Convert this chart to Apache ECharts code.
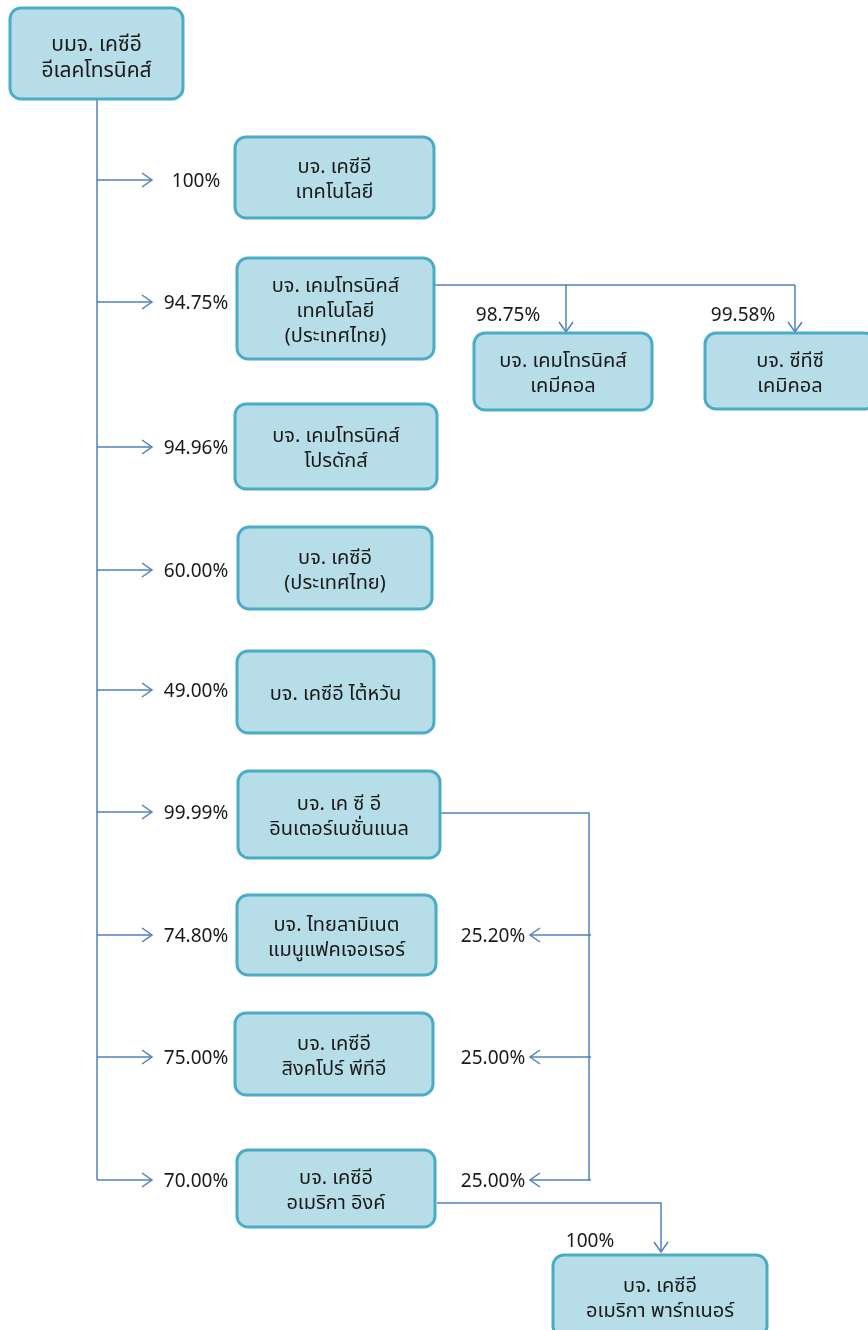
<!DOCTYPE html>
<html>
<head>
<meta charset="utf-8">
<title>โครงสร้างกลุ่มบริษัท</title>
<script src="https://cdn.jsdelivr.net/npm/echarts@6/dist/echarts.min.js"></script>
<style>
  html, body { margin: 0; padding: 0; background: #fff; }
  #chart { width: 868px; height: 1330px; }
</style>
</head>
<body>
<div id="chart"></div>
<script>
  // ชื่อบริษัท
  var companies = [
    'บมจ. เคซีอี\nอีเลคโทรนิคส์',
    'บจ. เคซีอี\nเทคโนโลยี',
    'บจ. เคมโทรนิคส์\nเทคโนโลยี\n(ประเทศไทย)',
    'บจ. เคมโทรนิคส์\nโปรดักส์',
    'บจ. เคซีอี\n(ประเทศไทย)',
    'บจ. เคซีอี ไต้หวัน',
    'บจ. เค ซี อี\nอินเตอร์เนชั่นแนล',
    'บจ. ไทยลามิเนต\nแมนูแฟคเจอเรอร์',
    'บจ. เคซีอี\nสิงคโปร์ พีทีอี',
    'บจ. เคซีอี\nอเมริกา อิงค์',
    'บจ. เคมโทรนิคส์\nเคมีคอล',
    'บจ. ซีทีซี\nเคมิคอล',
    'บจ. เคซีอี\nอเมริกา พาร์ทเนอร์'
  ]
  // สัดส่วนการถือหุ้นจากบริษัทแม่
  var parentStakes = ['100%', '94.75%', '94.96%', '60.00%', '49.00%', '99.99%', '74.80%', '75.00%', '70.00%']
  // สัดส่วนการถือหุ้นของบริษัทย่อย
  var chemtronicsStakes = ['98.75%', '99.58%']
  var internationalStakes = ['25.20%', '25.00%', '25.00%']
  var americaStakes = ['100%']

  // layout (pixel space of the page, y down)
  var boxLayout = [
    [10, 8, 173, 91],
    [235, 137, 199, 81],
    [237, 258, 197, 101],
    [235, 404, 202, 85],
    [238, 527, 194, 82],
    [237, 651, 197, 82],
    [238, 771, 202, 87],
    [237, 895, 199, 80],
    [235, 1013, 198, 82],
    [237, 1150, 198, 77],
    [474, 333, 178, 77],
    [705, 333, 170, 76],
    [553, 1255, 214, 82]
  ]
  var branchY = [180, 302, 447, 570, 690, 812, 935, 1057, 1180]
  var crossY = [935, 1057, 1180]

  var connectors = [
    { pts: [[97, 99], [97, 1180]], arrow: false }
  ]
  branchY.forEach(function (y) {
    connectors.push({ pts: [[97, y], [152, y]], arrow: true })
  })
  connectors.push({ pts: [[434, 285], [795, 285]], arrow: false })
  connectors.push({ pts: [[566, 285], [566, 332]], arrow: true })
  connectors.push({ pts: [[795, 285], [795, 332]], arrow: true })
  connectors.push({ pts: [[440, 813], [589, 813], [589, 1180]], arrow: false })
  crossY.forEach(function (y) {
    connectors.push({ pts: [[591, y], [530, y]], arrow: true })
  })
  connectors.push({ pts: [[437, 1203], [661, 1203], [661, 1252]], arrow: true })

  var labels = []
  parentStakes.forEach(function (s, i) { labels.push([196, branchY[i] + 3, s]) })
  labels.push([508, 317, chemtronicsStakes[0]])
  labels.push([743, 317, chemtronicsStakes[1]])
  internationalStakes.forEach(function (s, i) { labels.push([493, crossY[i] + 3, s]) })
  labels.push([590, 1243, americaStakes[0]])

  var FONT = 'Tahoma, "Noto Sans Thai", "Noto Sans", sans-serif'
  var LINE = '#4f81bd'

  var myChart = echarts.init(document.getElementById('chart'))
  var option = {
    animation: false,
    grid: { left: 0, right: 0, top: 0, bottom: 0 },
    xAxis: { type: 'value', min: 0, max: 868, show: false },
    yAxis: { type: 'value', min: 0, max: 1330, inverse: true, show: false },
    series: [
      {
        type: 'custom',
        name: 'connectors',
        coordinateSystem: 'cartesian2d',
        clip: false,
        silent: true,
        data: connectors.map(function (c, i) { return [c.pts[0][0], c.pts[0][1], i] }),
        renderItem: function (params, api) {
          var c = connectors[params.dataIndex]
          var pts = c.pts.map(function (p) { return api.coord(p) })
          var children = [{
            type: 'polyline',
            shape: { points: pts },
            style: { stroke: LINE, lineWidth: 1.5, fill: null }
          }]
          if (c.arrow) {
            var t = pts[pts.length - 1]
            var p = pts[pts.length - 2]
            var dx = t[0] - p[0], dy = t[1] - p[1]
            var len = Math.sqrt(dx * dx + dy * dy)
            dx /= len; dy /= len
            var L = 10, W = 7
            children.push({
              type: 'polyline',
              shape: { points: [
                [t[0] - dx * L - dy * W, t[1] - dy * L + dx * W],
                t,
                [t[0] - dx * L + dy * W, t[1] - dy * L - dx * W]
              ] },
              style: { stroke: LINE, lineWidth: 1.5, fill: null }
            })
          }
          return { type: 'group', children: children }
        }
      },
      {
        type: 'custom',
        name: 'companies',
        coordinateSystem: 'cartesian2d',
        clip: false,
        data: boxLayout.map(function (b, i) { return { name: companies[i], value: b } }),
        renderItem: function (params, api) {
          var a = api.coord([api.value(0), api.value(1)])
          var b = api.coord([api.value(0) + api.value(2), api.value(1) + api.value(3)])
          var x = Math.min(a[0], b[0]), y = Math.min(a[1], b[1])
          var w = Math.abs(b[0] - a[0]), h = Math.abs(b[1] - a[1])
          var root = params.dataIndex === 0
          return {
            type: 'group',
            children: [
              {
                type: 'rect',
                shape: { x: x, y: y, width: w, height: h, r: 11 },
                style: { fill: '#b7dde8', stroke: '#4bacc6', lineWidth: 3 }
              },
              {
                type: 'text',
                x: x + w / 2,
                y: y + h / 2 + (root ? 6 : 4),
                style: {
                  text: companies[params.dataIndex],
                  align: 'center',
                  verticalAlign: 'middle',
                  fill: '#1a1a1a',
                  font: (root ? '21px ' : '20px ') + FONT,
                  lineHeight: root ? 26 : 25
                }
              }
            ]
          }
        }
      },
      {
        type: 'custom',
        name: 'stakes',
        coordinateSystem: 'cartesian2d',
        clip: false,
        silent: true,
        data: labels,
        renderItem: function (params, api) {
          var p = api.coord([api.value(0), api.value(1)])
          return {
            type: 'text',
            x: p[0],
            y: p[1],
            style: {
              text: labels[params.dataIndex][2],
              align: 'center',
              verticalAlign: 'middle',
              fill: '#1a1a1a',
              font: '19px ' + FONT
            }
          }
        }
      }
    ]
  }
  myChart.setOption(option)
</script>
</body>
</html>
